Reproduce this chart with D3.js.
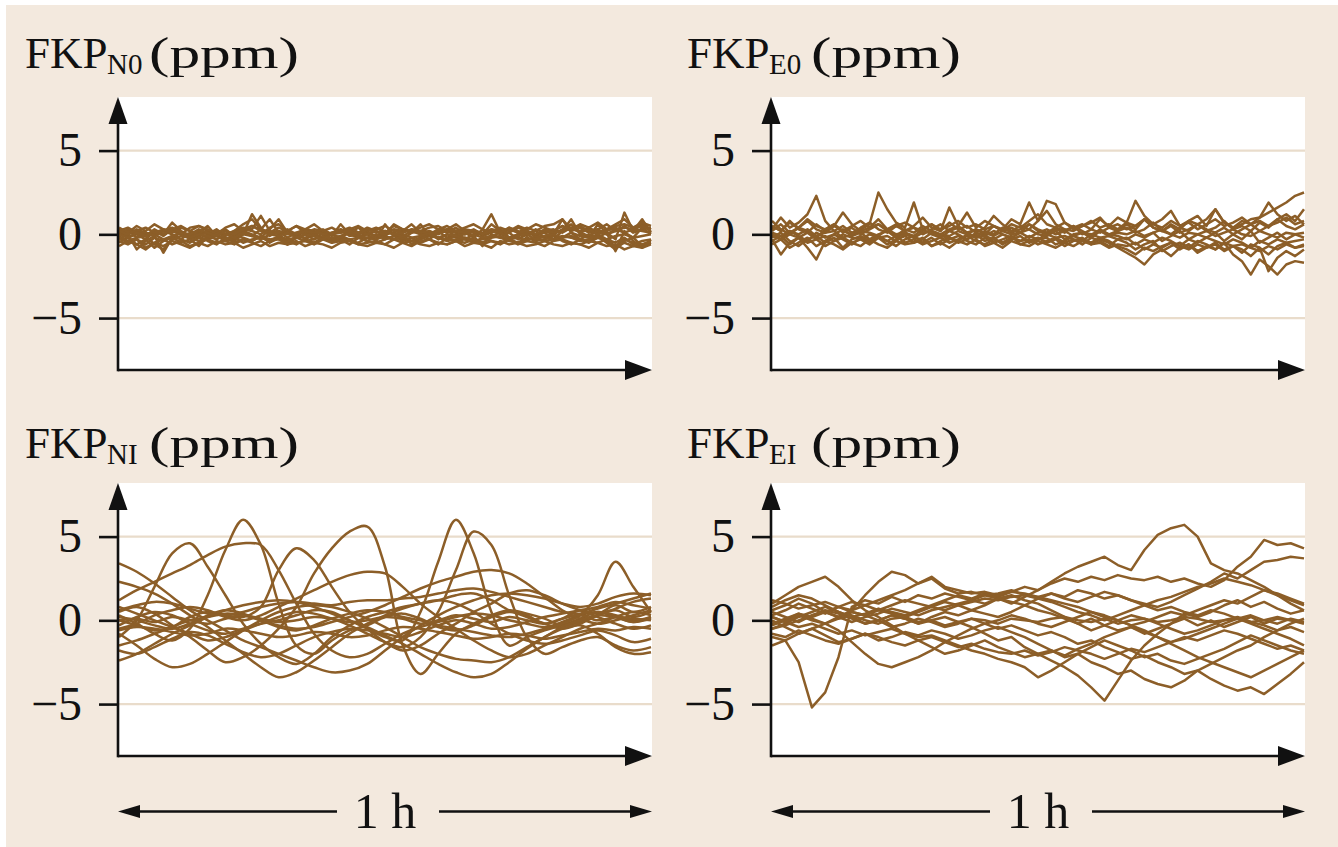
<!DOCTYPE html>
<html><head><meta charset="utf-8">
<script src="https://cdn.jsdelivr.net/npm/d3@7"></script>
<style>html,body{margin:0;padding:0;background:#fff;} svg{display:block}</style>
</head><body><svg id="c" width="1338" height="847"></svg>
<script>
const tickValues = [-5, 0, 5];
const gridValues = [-5, 5];
const yDomain = [-8.1, 8.2];
const timeLabel = "1 h";
const titles = {N0: "N0", E0: "E0", NI: "NI", EI: "EI"};

const seriesN0 = [
[0.1,-0.2,0.0,-0.3,0.2,-0.1,0.3,0.0,-0.2,0.1, 0.5,-0.1,0.2,-0.3,0.0,1.2,0.4,-0.1,0.2,-0.2, 0.1,-0.3,0.0,0.2,-0.1,0.6,0.0,-0.2,0.1,-0.1, 0.2,0.0,-0.3,0.1,0.6,-0.1,0.2,-0.2,0.0,0.1, -0.2,0.3,1.2,0.1,-0.2,0.0,0.2,-0.1,0.1,-0.3, 0.2,0.9,0.0,-0.2,0.6,0.1,-0.3,1.3,0.2,0.9,0.1],
[-0.3,0.0,-0.9,-0.4,-0.1,-1.1,-0.2,0.1,-0.3,-0.7, -0.1,0.2,-0.2,-0.4,0.0,-0.1,0.3,0.9,0.1,-0.6, -0.2,0.0,-0.3,0.1,-0.5,-0.1,0.2,-0.2,0.0,-0.4, 0.6,-0.1,0.0,-0.6,-0.2,0.1,-0.3,0.0,-0.2,0.2, -0.1,-0.7,0.0,-0.2,0.1,-0.3,0.0,0.2,-0.2,0.0, 0.9,0.1,-0.3,0.0,-0.2,0.1,-1.0,0.2,-0.4,-0.8,-0.3],
[0.2,0.4,0.1,-0.1,0.3,0.0,0.7,0.2,-0.1,0.2, 0.0,0.3,-0.1,0.2,0.4,0.3,1.1,0.2,0.0,0.2, 0.5,0.1,-0.1,0.2,0.0,0.3,0.1,0.4,0.0,0.2, -0.1,0.3,0.2,0.6,0.1,0.0,0.3,0.1,0.4,0.0, 0.2,0.1,0.3,0.0,0.4,0.2,-0.1,0.3,0.1,0.2, 0.5,0.2,0.4,0.1,0.3,0.0,0.2,0.5,0.1,0.3,0.4],
[-0.5,-0.2,-0.6,-0.3,-0.8,-0.4,-0.2,-0.5,-0.3,-0.1, -0.4,-0.6,-0.2,-0.5,-0.3,-0.4,-0.1,-0.5,-0.2,-0.4, -0.6,-0.3,-0.5,-0.2,-0.4,-0.3,-0.6,-0.2,-0.4,-0.5, -0.3,-0.1,-0.4,-0.2,-0.5,-0.3,-0.6,-0.2,-0.4,-0.3, -0.5,-0.2,-0.4,-0.6,-0.3,-0.5,-0.2,-0.4,-0.3,-0.1, -0.4,-0.6,-0.3,-0.5,-0.2,-0.4,-0.7,-0.3,-0.5,-0.6,-0.4],
[0.0,0.3,-0.2,0.1,-0.1,0.2,0.0,-0.3,0.1,0.0, -0.2,0.1,0.3,-0.1,0.2,0.0,-0.2,0.3,0.9,0.1, -0.1,0.2,0.0,-0.2,0.1,0.3,-0.1,0.0,0.2,-0.2, 0.0,0.1,-0.1,0.2,0.0,-0.3,0.1,0.2,-0.1,0.0, 0.2,-0.1,0.1,0.3,-0.2,0.0,0.1,-0.1,0.2,0.0, 0.3,0.6,0.1,-0.1,0.2,0.0,0.3,0.1,-0.2,0.4,0.0],
[-0.2,-0.5,-0.3,-0.6,-0.2,-0.4,-0.1,-0.3,-0.5,-0.2, -0.3,-0.1,-0.4,-0.2,-0.5,-0.3,-0.2,-0.4,-0.1,-0.3, -0.2,-0.4,-0.3,-0.1,-0.3,-0.2,-0.4,-0.5,-0.2,-0.3, -0.1,-0.3,-0.2,-0.4,-0.3,-0.1,-0.2,-0.4,-0.3,-0.2, -0.4,-0.3,-0.1,-0.2,-0.4,-0.5,-0.3,-0.2,-0.4,-0.3, -0.2,-0.1,-0.3,-0.4,-0.2,-0.3,-0.5,-0.2,-0.6,-0.4,-0.3],
[0.3,0.1,0.2,0.0,0.1,0.3,0.2,0.0,0.4,0.5, 0.2,0.1,0.0,0.2,0.6,0.9,0.3,0.1,0.2,0.0, 0.1,0.3,0.2,0.0,0.1,0.2,0.4,0.1,0.0,0.3, 0.5,0.2,0.1,0.3,0.2,0.4,0.5,0.2,0.1,0.3, 0.2,0.0,0.6,0.2,0.3,0.1,0.4,0.2,0.5,0.6, 0.9,0.3,0.2,0.4,0.1,0.3,0.6,0.9,0.4,0.6,0.3],
[-0.1,-0.4,-0.2,-0.1,-0.6,-0.9,-0.3,-0.1,-0.2,-0.4, -0.2,0.0,-0.3,-0.1,-0.2,-0.4,-0.1,-0.3,-0.2,-0.5, -0.1,-0.2,0.0,-0.3,-0.2,-0.1,-0.3,-0.2,-0.4,-0.1, -0.2,-0.3,-0.1,-0.4,-0.2,0.0,-0.2,-0.3,-0.1,-0.2, -0.3,-0.5,-0.2,-0.1,-0.3,-0.2,-0.4,-0.1,-0.2,-0.3, -0.1,-0.2,-0.4,-0.3,-0.1,-0.5,-0.9,-0.4,-0.2,-0.7,-0.5],
[0.1,0.0,0.2,0.4,0.1,0.0,0.3,0.5,0.2,0.0, 0.1,0.2,0.0,0.1,0.3,0.2,0.0,0.4,0.6,0.2, 0.0,0.1,0.3,0.2,0.0,0.2,0.3,0.1,0.4,0.2, 0.0,0.6,0.3,0.1,0.2,0.0,0.2,0.3,0.6,0.2, 0.1,0.0,0.3,0.2,0.1,0.4,0.2,0.0,0.2,0.3, 0.1,0.4,0.5,0.2,0.3,0.6,0.2,0.4,0.3,0.5,0.2],
[-0.4,-0.6,-0.3,-0.8,-0.5,-0.3,-0.6,-0.4,-0.7,-0.5, -0.3,-0.5,-0.4,-0.6,-0.3,-0.5,-0.7,-0.4,-0.3,-0.6, -0.5,-0.4,-0.6,-0.3,-0.5,-0.4,-0.3,-0.6,-0.5,-0.4, -0.6,-0.3,-0.5,-0.7,-0.4,-0.3,-0.5,-0.6,-0.4,-0.5, -0.3,-0.6,-0.4,-0.5,-0.3,-0.6,-0.4,-0.5,-0.7,-0.4, -0.3,-0.5,-0.6,-0.4,-0.5,-0.3,-0.8,-0.5,-0.7,-0.6,-0.5],
[0.4,0.1,0.5,0.2,0.6,0.3,0.1,0.4,0.2,0.5, 0.3,0.0,0.4,0.6,0.2,0.5,0.3,0.1,0.4,0.2, 0.5,0.3,0.6,0.2,0.4,0.1,0.3,0.5,0.2,0.4, 0.1,0.5,0.3,0.2,0.4,0.6,0.3,0.5,0.2,0.4, 0.6,0.3,0.1,0.4,0.2,0.5,0.3,0.6,0.4,0.2, 0.5,0.3,0.6,0.4,0.7,0.3,0.5,0.6,0.4,0.7,0.5],
[-0.7,-0.4,-0.6,-0.9,-0.5,-0.7,-0.4,-0.6,-0.8,-0.5, -0.7,-0.4,-0.6,-0.5,-0.8,-0.6,-0.4,-0.7,-0.5,-0.6, -0.4,-0.7,-0.5,-0.6,-0.8,-0.5,-0.4,-0.6,-0.7,-0.5, -0.6,-0.8,-0.5,-0.4,-0.6,-0.7,-0.5,-0.6,-0.4,-0.7, -0.5,-0.6,-0.8,-0.4,-0.6,-0.5,-0.7,-0.6,-0.4,-0.6, -0.7,-0.5,-0.6,-0.8,-0.5,-0.7,-0.6,-0.9,-0.7,-0.8,-0.6],
[0.0,-0.2,0.1,-0.1,0.0,-0.3,-0.1,0.1,-0.2,0.0, -0.1,-0.3,0.0,-0.2,0.1,-0.1,-0.3,0.0,-0.1,0.1, -0.2,0.0,-0.1,-0.3,0.0,-0.2,0.1,-0.1,-0.2,0.0, -0.3,-0.1,0.0,-0.2,-0.1,0.1,-0.2,0.0,-0.1,-0.3, 0.0,-0.2,-0.1,0.1,-0.2,-0.1,0.0,-0.3,-0.1,0.0, -0.2,0.1,-0.1,-0.2,0.0,-0.3,-0.1,0.0,-0.2,-0.1,0.0],
[0.2,0.0,0.3,0.1,-0.1,0.2,0.4,0.1,0.0,0.3, 0.1,-0.1,0.2,0.0,0.3,0.5,0.2,0.0,0.1,0.3, 0.0,0.2,0.1,0.3,0.0,0.1,0.2,0.0,0.3,0.1, 0.2,0.0,0.1,0.3,0.1,0.2,0.0,0.3,0.2,0.1, 0.3,0.0,0.2,0.1,0.4,0.1,0.2,0.0,0.3,0.1, 0.2,0.4,0.1,0.3,0.0,0.2,0.4,0.1,0.3,0.2,0.1]
];

const seriesE0 = [
[0.3,1.0,0.4,0.7,1.2,2.3,0.8,0.2,0.5,0.1, 0.3,0.6,2.5,1.5,0.7,0.4,1.9,0.3,0.6,0.2, 1.6,0.5,1.3,0.4,0.8,0.5,0.3,0.9,0.6,1.9, 0.8,2.0,1.8,0.7,0.4,0.6,0.3,0.9,0.5,1.0, 0.7,2.0,1.1,0.6,0.9,1.4,0.5,0.8,0.6,0.9, 1.5,0.7,0.4,0.8,0.6,1.0,1.9,1.2,0.8,1.1,0.6],
[-0.3,-1.2,-0.5,-0.2,-0.8,-1.5,-0.4,0.0,-0.3,-0.6, -0.2,-0.5,-0.1,-0.4,-0.7,-0.3,-0.1,-0.5,-0.2,-0.6, -0.3,-0.1,-0.4,-0.6,-0.2,-0.5,-0.3,-0.1,-0.6,-0.4, -0.2,-0.5,-0.3,-0.7,-0.4,-0.2,-0.6,-0.3,-0.5,-0.8, -1.1,-1.4,-1.8,-1.2,-0.9,-1.3,-0.8,-0.6,-1.0,-0.7, -0.9,-0.5,-1.2,-1.6,-2.4,-1.5,-1.9,-2.4,-1.8,-1.6,-1.7],
[0.5,0.2,0.8,0.3,0.1,0.6,0.2,0.5,1.3,0.6, 0.2,0.4,0.9,0.3,0.6,0.2,0.5,1.0,0.4,0.2, 0.7,0.3,0.5,0.1,0.4,1.1,0.6,0.2,0.5,0.3, 0.8,1.4,0.6,0.3,0.2,0.5,0.7,1.0,0.4,0.6, 0.3,0.5,0.9,0.4,0.2,0.6,0.3,0.8,1.1,0.5, 1.5,0.7,0.4,0.6,0.9,1.0,1.3,1.6,1.9,2.3,2.5],
[0.0,-0.3,0.2,-0.1,-0.4,0.1,-0.2,0.0,0.3,-0.1, 0.1,-0.3,0.0,0.2,-0.2,0.1,-0.1,0.3,0.0,-0.2, 0.2,0.0,-0.3,0.1,-0.1,0.2,0.0,-0.2,0.1,0.3, 0.0,-0.1,0.2,-0.3,0.0,0.1,-0.2,0.2,0.0,-0.1, -0.3,0.0,-0.2,0.1,-0.4,-0.1,0.2,-0.3,0.0,-0.2, 0.1,-0.4,0.0,-0.3,0.2,-0.5,-0.2,0.1,-0.3,0.0,-0.2],
[-0.4,-0.1,-0.6,-0.2,-0.5,-0.3,-0.7,-0.4,-0.2,-0.5, -0.3,-0.6,-0.2,-0.4,-0.1,-0.5,-0.3,-0.6,-0.4,-0.2, -0.5,-0.3,-0.1,-0.4,-0.6,-0.3,-0.5,-0.2,-0.4,-0.3, -0.6,-0.4,-0.2,-0.5,-0.3,-0.6,-0.2,-0.4,-0.7,-0.3, -0.5,-0.9,-0.6,-0.4,-1.0,-0.7,-0.5,-0.8,-0.4,-0.6, -0.9,-0.5,-0.7,-1.1,-0.6,-0.8,-1.2,-0.7,-0.5,-0.8,-0.6],
[0.2,0.6,0.1,0.4,0.8,0.3,0.1,0.5,0.2,0.0, 0.4,0.7,0.3,0.1,0.5,0.2,0.4,0.0,0.3,0.6, 0.2,0.4,0.1,0.3,0.0,0.5,0.2,0.4,0.1,0.6, 0.3,0.1,0.4,0.2,0.5,0.0,0.3,0.1,0.4,0.2, 0.6,0.3,0.9,0.4,0.2,0.5,0.1,0.3,0.6,0.2, 0.4,0.8,0.3,0.5,0.2,0.7,0.4,0.9,0.5,0.3,0.6],
[0.8,0.3,0.0,0.4,0.2,-0.2,0.3,0.6,0.1,0.4, 0.0,0.3,0.6,0.2,-0.1,0.3,0.1,0.5,0.2,0.0, 0.3,0.5,0.1,-0.2,0.2,0.0,0.4,0.1,0.3,0.6, 0.2,0.0,0.3,0.1,0.5,0.2,-0.1,0.3,0.0,0.2, 0.4,0.1,0.3,0.7,0.2,0.0,0.4,0.2,0.6,0.3, 0.1,0.4,0.0,0.3,0.6,0.2,0.5,0.9,1.2,0.8,1.5],
[-0.2,0.1,-0.4,-0.7,-0.3,-0.1,-0.5,-0.2,-0.8,-0.3, -0.1,-0.4,-0.2,-0.6,-0.3,-0.1,-0.5,-0.2,-0.7,-0.4, -0.2,-0.5,-0.3,0.0,-0.4,-0.2,-0.6,-0.3,-0.1,-0.5, -0.3,-0.2,-0.6,-0.4,-0.1,-0.3,-0.5,-0.2,-0.4,-0.7, -0.9,-1.2,-0.8,-1.0,-0.7,-0.5,-0.9,-0.6,-1.1,-0.8, -0.6,-1.0,-0.7,-0.9,-1.3,-0.8,-2.2,-1.4,-1.0,-1.3,-0.9],
[0.5,0.2,0.7,0.4,0.9,0.5,0.3,0.6,0.2,0.5, 0.8,0.4,0.6,0.3,0.5,0.7,0.4,0.2,0.6,0.3, 0.5,0.8,0.4,0.6,0.3,0.5,0.2,0.6,0.4,0.8, 1.2,0.6,0.4,0.7,0.3,0.5,0.8,0.4,0.6,0.3, 0.7,0.5,0.9,0.6,0.4,0.8,0.5,0.7,0.3,0.6, 0.9,0.5,0.7,1.0,0.6,0.8,0.5,0.7,1.0,0.6,0.8],
[-0.6,-0.3,-0.8,-0.5,-0.2,-0.7,-0.4,-0.6,-0.9,-0.5, -0.7,-0.3,-0.6,-0.8,-0.4,-0.6,-0.5,-0.3,-0.7,-0.5, -0.8,-0.4,-0.6,-0.3,-0.7,-0.5,-0.8,-0.4,-0.6,-0.7, -0.4,-0.6,-0.8,-0.5,-0.7,-0.4,-0.6,-0.5,-0.8,-0.6, -0.7,-0.5,-0.9,-0.6,-0.8,-0.5,-0.7,-0.9,-0.6,-0.8, -0.5,-0.9,-0.7,-0.6,-0.8,-1.0,-0.7,-0.9,-0.6,-0.8,-0.7],
[0.1,-0.1,0.2,0.0,0.3,-0.1,0.1,0.2,-0.2,0.0, 0.2,0.1,-0.1,0.3,0.0,0.1,-0.2,0.1,0.2,0.0, -0.1,0.2,0.0,0.3,0.1,-0.1,0.2,0.0,0.1,-0.2, 0.1,0.3,0.0,0.2,-0.1,0.1,0.0,0.2,-0.1,0.1, 0.0,0.2,-0.1,0.1,0.3,0.0,-0.2,0.1,0.0,0.2, -0.1,0.1,0.3,0.0,-0.1,0.2,0.0,-0.2,0.1,0.0,0.1],
[-0.1,-0.3,0.0,-0.2,0.1,-0.3,-0.1,-0.4,0.0,-0.2, -0.3,0.0,-0.2,-0.1,-0.4,0.0,-0.2,-0.3,0.1,-0.1, -0.2,-0.4,0.0,-0.2,-0.1,-0.3,0.0,-0.2,-0.4,-0.1, -0.3,0.0,-0.2,-0.1,-0.3,-0.4,0.0,-0.2,-0.1,-0.3, -0.2,-0.6,-0.3,-0.5,-0.2,-0.4,-0.7,-0.3,-0.5,-0.2, -0.4,-0.6,-0.3,-0.5,-0.8,-0.4,-0.6,-0.3,-0.5,-0.4,-0.3]
];

const seriesNI = [
[0.3,-0.2,-0.8,-1.2,-0.5,1.5,4.2,6.0,4.5,1.0,-1.5,-2.0,-1.2,-0.6,-0.3,0.2,0.4,0.1,-0.4,-0.6,-0.3,0.2,0.5,0.3,-0.2,0.1,0.6,0.4,0.9,0.5,0.8],
[-1.0,0.0,2.0,4.0,4.6,3.2,1.5,-0.2,-1.4,-2.2,-2.6,-2.0,-1.0,-0.3,0.2,0.5,0.8,1.0,1.2,1.5,1.6,1.2,0.6,0.2,-0.2,-0.5,-0.2,0.3,0.7,1.1,1.3],
[0.5,0.8,0.4,-0.3,-1.0,-1.8,-2.5,-2.2,-1.5,-0.5,0.8,2.8,4.3,5.3,5.6,3.2,-1.5,-3.2,-2.0,-0.8,-0.2,0.3,0.6,0.4,0.1,-0.3,-0.1,0.3,0.6,0.2,0.5],
[0.0,-0.3,-0.6,-0.4,0.2,0.5,0.3,0.2,0.8,3.0,4.3,3.6,2.0,0.5,-0.5,-1.3,-1.8,-1.5,-0.8,-0.2,0.5,1.0,1.6,1.8,1.5,1.0,0.6,0.2,-0.2,-0.5,-0.3],
[1.2,1.8,2.3,2.8,3.3,3.9,4.4,4.6,4.5,3.0,1.0,-0.8,-1.8,-2.2,-2.0,-1.4,-0.8,-0.4,-0.1,0.2,0.4,0.3,0.0,-0.2,-0.4,-0.1,0.3,0.5,0.2,-0.1,0.2],
[3.4,2.9,2.2,1.4,0.6,0.0,-0.6,-1.2,-1.6,-2.0,-2.4,-2.8,-3.1,-3.0,-2.6,-1.8,-1.0,-0.3,0.3,0.8,1.2,1.5,1.6,1.5,1.3,1.0,0.8,1.0,1.4,1.6,1.5],
[-0.3,0.2,0.5,0.3,-0.2,-0.6,-0.8,-0.5,-0.2,0.0,0.3,0.6,0.5,0.0,-0.5,-1.0,-1.2,0.5,3.5,6.0,4.0,0.5,-1.5,-1.0,-0.6,-0.3,0.1,0.5,0.3,0.0,0.2],
[0.8,0.4,0.0,-0.4,-0.8,-1.2,-1.0,-0.6,-0.2,0.2,0.5,0.4,0.1,-0.3,-0.8,-1.3,-1.6,-1.0,0.5,3.0,5.3,4.5,1.5,-1.0,-2.0,-1.6,-1.2,-1.0,-1.5,-1.8,-1.6],
[0.2,0.0,-0.3,-0.5,-0.2,0.3,0.6,0.4,0.0,-0.4,-0.6,-0.3,0.1,0.4,0.6,0.5,0.2,0.0,-0.3,-0.5,-0.7,-0.9,-1.0,-0.8,-0.5,-0.2,0.3,1.5,3.5,2.0,0.5],
[-0.5,-0.2,0.3,0.6,0.8,0.6,0.2,0.0,0.3,0.8,1.3,1.8,2.3,2.7,2.9,2.8,2.0,1.0,0.2,-0.5,-1.2,-1.8,-2.2,-2.0,-1.5,-1.0,-0.5,-0.2,0.2,0.5,0.3],
[-1.5,-1.2,-0.8,-0.4,0.0,0.2,0.4,0.3,0.0,-0.3,-0.5,-0.4,-0.1,0.2,0.5,0.9,1.4,1.9,2.3,2.6,2.9,3.0,2.8,2.2,1.4,0.6,0.1,-0.2,0.0,0.3,0.6],
[2.3,2.0,1.6,1.0,0.3,-0.4,-1.2,-2.0,-2.8,-3.4,-3.1,-2.4,-1.6,-0.8,-0.2,0.3,0.7,1.0,1.2,1.0,0.5,-0.2,-0.8,-1.2,-1.4,-1.2,-0.9,-0.6,-0.9,-1.3,-1.1],
[-2.4,-2.0,-1.4,-0.8,-0.3,0.2,0.6,0.9,1.1,1.2,1.1,0.8,0.4,0.0,-0.4,-0.9,-1.4,-2.0,-2.6,-3.1,-3.4,-3.2,-2.5,-1.7,-1.0,-0.4,0.0,0.3,0.2,-0.1,0.1],
[-0.8,-1.5,-2.3,-2.8,-2.6,-2.0,-1.3,-0.6,0.0,0.5,0.8,0.9,0.8,0.5,0.1,-0.4,-1.0,-1.6,-2.0,-2.3,-2.4,-2.5,-2.2,-1.6,-1.0,-0.5,-0.3,-0.8,-1.6,-2.0,-1.9],
[0.0,0.1,-0.1,0.2,0.0,-0.2,0.1,0.3,0.1,-0.1,0.0,0.2,0.1,-0.1,0.0,0.2,0.1,-0.2,0.0,0.3,0.1,-0.1,0.2,0.0,-0.2,0.1,0.3,0.0,0.2,0.1,0.0],
[-0.6,-0.4,-0.5,-0.7,-0.9,-0.8,-0.5,-0.6,-0.8,-1.0,-0.9,-0.7,-0.8,-1.0,-0.9,-0.6,-0.4,-0.5,-0.7,-0.9,-1.1,-1.0,-0.8,-0.9,-1.1,-0.9,-0.7,-0.5,-0.6,-0.4,-0.5],
[0.6,0.9,1.1,1.0,0.7,0.4,0.3,0.5,0.8,1.0,1.1,1.0,0.9,1.1,1.2,1.2,1.3,1.4,1.6,1.8,1.9,1.7,1.4,1.1,0.8,0.5,0.4,0.7,1.0,1.3,1.6],
[-1.8,-2.0,-1.6,-1.1,-0.7,-0.9,-1.4,-1.9,-2.2,-2.0,-1.5,-1.0,-0.7,-0.5,-0.6,-0.8,-1.0,-0.7,-0.3,0.0,-0.2,-0.5,-0.4,-0.1,0.2,0.4,0.6,0.8,1.1,0.9,0.7]
];

const seriesEI = [
[-1.0,-1.2,-2.5,-5.2,-4.3,-2.2,0.8,1.2,1.0,1.4,1.1,1.5,1.3,1.6,1.4,1.2,1.5,1.3,1.1,0.9,0.6,0.4,0.1,-0.2,0.1,-0.3,-0.6,-0.4,-0.8,-0.5,-0.2,0.1,-0.3,0.0,-0.4,-0.1,0.2,-0.2,0.1,0.0,-0.2],
[0.3,0.6,1.0,0.7,0.4,0.8,1.1,0.9,0.6,0.9,1.2,1.0,0.8,1.1,0.9,0.6,0.9,1.3,1.0,1.4,1.8,2.3,2.8,3.2,3.5,3.8,3.3,3.0,4.2,5.1,5.5,5.7,5.0,3.4,3.0,2.8,2.4,2.0,1.5,1.0,0.6],
[-0.5,-0.2,0.2,0.5,0.8,0.5,0.2,0.4,0.7,0.5,0.3,0.6,0.9,1.2,1.5,1.3,1.6,1.4,1.7,2.0,1.8,2.2,2.5,2.3,2.6,2.4,2.7,2.5,2.4,2.6,2.3,2.5,2.2,2.0,2.4,3.2,3.8,4.8,4.5,4.6,4.3],
[0.8,1.2,1.5,1.3,0.9,0.5,0.2,-0.2,0.0,0.3,0.1,-0.2,0.2,0.5,0.3,0.6,0.4,0.2,0.5,0.9,1.3,1.6,1.4,1.8,1.6,1.3,1.5,1.2,1.0,0.8,1.1,1.5,1.9,2.3,2.8,2.5,3.0,3.5,3.6,3.8,3.7],
[0.5,0.2,-0.1,0.3,0.6,0.4,0.1,-0.2,0.0,0.3,0.1,-0.2,0.0,-0.3,-0.1,-0.4,-0.8,-1.2,-1.0,-1.6,-2.0,-2.4,-2.8,-3.3,-4.0,-4.8,-3.6,-2.4,-1.5,-0.8,-0.2,0.4,0.2,0.5,0.9,1.2,0.8,1.1,0.7,0.4,0.6],
[-0.3,0.0,0.4,0.1,-0.2,0.2,0.5,0.3,0.0,-0.4,-0.2,0.1,-0.1,-0.4,-0.2,0.1,-0.2,-0.5,-0.3,-0.6,-0.9,-0.7,-1.0,-1.4,-1.2,-1.6,-1.9,-2.3,-2.1,-2.5,-2.8,-3.2,-3.0,-3.5,-3.9,-4.2,-4.0,-4.4,-3.8,-3.2,-2.5],
[0.0,-0.4,-0.8,-0.5,-0.9,-1.3,-1.1,-0.8,-1.2,-1.0,-0.7,-0.9,-0.6,-0.8,-1.1,-0.9,-0.6,-0.4,-0.7,-1.0,-1.4,-1.8,-2.2,-2.0,-2.5,-2.8,-3.2,-3.0,-3.5,-3.8,-4.0,-3.6,-3.0,-2.6,-2.2,-1.8,-1.5,-1.0,-0.6,-0.2,0.1],
[0.2,-0.1,-0.4,-0.2,-0.5,-0.8,-0.6,-0.9,-0.7,-0.5,-0.8,-1.0,-0.9,-1.2,-1.5,-1.8,-2.0,-2.3,-2.5,-2.8,-3.4,-3.0,-2.5,-2.0,-1.6,-1.2,-1.5,-1.8,-2.2,-2.0,-2.4,-2.6,-2.3,-2.0,-1.7,-1.3,-0.9,-1.2,-1.5,-1.8,-2.0],
[-1.5,-1.2,-0.8,-0.5,-0.2,-0.6,-1.3,-2.0,-2.6,-2.8,-2.5,-2.2,-1.8,-1.3,-0.9,-0.5,-0.2,0.0,0.3,0.1,-0.2,-0.4,-0.1,0.2,0.5,0.3,0.0,-0.3,-0.6,-1.0,-1.4,-1.8,-2.2,-2.5,-2.8,-3.1,-3.4,-3.0,-2.6,-2.2,-1.8],
[0.6,0.9,1.3,1.0,0.5,0.2,0.6,1.5,2.3,2.9,2.7,2.2,2.6,2.0,1.8,1.6,1.7,1.5,1.7,1.6,1.4,1.2,1.0,0.8,0.5,0.2,0.0,-0.3,-0.1,0.2,0.5,0.3,0.6,0.9,1.2,1.0,1.4,1.8,1.6,1.3,1.0],
[1.0,1.5,2.0,2.3,2.6,2.0,1.2,0.6,0.2,-0.3,-0.8,-1.2,-1.6,-2.0,-1.8,-1.5,-1.2,-1.6,-1.9,-2.2,-2.0,-1.8,-2.1,-1.7,-1.4,-1.0,-0.7,-0.4,-0.7,-1.0,-1.3,-1.1,-0.8,-0.5,-0.2,0.1,-0.2,-0.5,-0.8,-1.1,-1.5],
[-0.2,0.1,0.4,0.2,0.5,0.8,0.6,0.9,1.2,1.5,1.8,2.2,2.5,1.9,1.6,1.7,1.5,1.6,1.8,1.5,1.4,1.6,1.3,1.1,1.4,1.7,1.5,1.2,0.9,0.6,0.8,0.5,0.3,0.6,0.4,0.1,0.3,0.0,-0.2,0.1,-0.1],
[0.2,-0.1,0.3,0.0,-0.2,0.1,0.3,0.0,-0.2,0.1,0.2,-0.1,0.0,0.2,-0.1,0.1,0.0,-0.2,0.1,0.0,-0.1,0.1,0.2,0.0,-0.1,0.1,-0.2,0.0,0.1,-0.1,0.0,0.2,0.1,-0.1,0.0,0.1,-0.1,0.0,0.2,0.0,-0.1],
[1.2,1.0,0.7,0.9,1.1,0.8,0.5,0.3,0.6,0.4,0.2,0.5,0.8,0.6,0.9,1.1,1.3,1.2,1.4,1.5,1.3,1.1,0.8,0.5,0.3,0.0,0.3,0.6,0.9,1.2,1.4,1.7,2.0,2.2,2.5,2.3,2.1,1.8,1.5,1.2,0.9],
[-0.8,-1.0,-0.6,-0.9,-1.2,-1.4,-1.1,-0.8,-1.0,-1.3,-1.5,-1.2,-1.0,-1.3,-1.6,-1.4,-1.7,-1.9,-2.0,-1.8,-2.1,-1.9,-1.6,-1.8,-2.0,-2.3,-2.0,-1.7,-1.9,-1.6,-1.3,-1.0,-1.2,-0.9,-0.6,-0.8,-1.1,-1.4,-1.7,-1.5,-1.8],
[-0.5,-0.3,0.0,0.3,0.5,0.2,-0.1,0.2,0.4,0.7,0.5,0.3,0.6,0.8,1.0,1.2,1.0,1.3,1.5,1.2,1.0,0.6,0.2,-0.2,-0.6,-0.3,0.0,0.3,0.1,-0.2,-0.5,-0.8,-0.6,-0.3,0.0,0.2,-0.1,-0.3,-0.6,-0.4,-0.7]
];

const C = {bg:"#f3e9de", line:"#8c5e28", grid:"#e9dccb", axis:"#111"};
const serif = "'Liberation Serif','Times New Roman',serif";

const svg = d3.select("#c");
svg.append("rect").attr("x",6).attr("y",5).attr("width",1332).attr("height",842).attr("fill",C.bg);

const panels = [
  {key:"N0", data:seriesN0, x0:118, x1:652, yTop:97, yBase:370, tx:25, ty:68, curve:d3.curveLinear, time:false},
  {key:"E0", data:seriesE0, x0:771, x1:1305, yTop:97, yBase:370, tx:687, ty:68, curve:d3.curveLinear, time:false},
  {key:"NI", data:seriesNI, x0:118, x1:652, yTop:483, yBase:756, tx:25, ty:458, curve:d3.curveCatmullRom, time:true},
  {key:"EI", data:seriesEI, x0:771, x1:1305, yTop:483, yBase:756, tx:687, ty:458, curve:d3.curveLinear, time:true}
];

panels.forEach(p => {
  const g = svg.append("g");
  const y = d3.scaleLinear().domain(yDomain).range([p.yBase, p.yTop]);
  g.append("rect").attr("x",p.x0).attr("y",p.yTop).attr("width",p.x1-p.x0).attr("height",p.yBase-p.yTop).attr("fill","#fff");
  g.selectAll(".grid").data(gridValues).join("line")
    .attr("x1",p.x0).attr("x2",p.x1).attr("y1",d=>y(d)).attr("y2",d=>y(d))
    .attr("stroke",C.grid).attr("stroke-width",2.2);
  const n = p.data[0].length;
  const x = d3.scaleLinear().domain([0, n-1]).range([p.x0+1, p.x1-1]);
  const line = d3.line().x((d,i)=>x(i)).y(d=>y(d)).curve(p.curve);
  g.selectAll(".s").data(p.data).join("path")
    .attr("d", line).attr("fill","none").attr("stroke",C.line)
    .attr("stroke-width",2.5).attr("stroke-linejoin","round");
  const ax = g.append("g").attr("transform",`translate(${p.x0},0)`)
    .call(d3.axisLeft(y).tickValues(tickValues).tickSize(19).tickPadding(17));
  ax.select(".domain").remove();
  ax.selectAll(".tick line").attr("stroke",C.axis).attr("stroke-width",2.6);
  ax.selectAll(".tick text").attr("fill",C.axis).style("font-family",serif).style("font-size","48px");
  g.append("line").attr("x1",p.x0).attr("x2",p.x0).attr("y1",p.yBase+1.3).attr("y2",p.yTop+20)
    .attr("stroke",C.axis).attr("stroke-width",2.6);
  g.append("path").attr("d",`M${p.x0},${p.yTop} L${p.x0-9.5},${p.yTop+27} L${p.x0+9.5},${p.yTop+27} Z`).attr("fill",C.axis);
  g.append("line").attr("x1",p.x0).attr("x2",p.x1-20).attr("y1",p.yBase).attr("y2",p.yBase)
    .attr("stroke",C.axis).attr("stroke-width",2.6);
  g.append("path").attr("d",`M${p.x1},${p.yBase} L${p.x1-27},${p.yBase-10} L${p.x1-27},${p.yBase+10} Z`).attr("fill",C.axis);
  g.append("text").attr("x",p.tx).attr("y",p.ty).attr("fill",C.axis)
    .style("font-family",serif).style("font-size","45px").text("FKP");
  g.append("text").attr("x",p.tx+82).attr("y",p.ty+6).attr("fill",C.axis)
    .style("font-family",serif).style("font-size","29px").text(titles[p.key]);
  g.append("text").attr("x",p.tx+124).attr("y",p.ty).attr("fill",C.axis)
    .attr("textLength",150).attr("lengthAdjust","spacingAndGlyphs")
    .style("font-family",serif).style("font-size","45px").text("(ppm)");
  if (p.time) {
    const ya = 811.5, cx = (p.x0+p.x1)/2;
    g.append("text").attr("x",cx).attr("y",828).attr("text-anchor","middle").attr("fill",C.axis)
      .style("font-family",serif).style("font-size","50px").text(timeLabel);
    g.append("line").attr("x1",p.x0+16).attr("x2",cx-48).attr("y1",ya).attr("y2",ya).attr("stroke",C.axis).attr("stroke-width",2.4);
    g.append("line").attr("x1",cx+54).attr("x2",p.x1-16).attr("y1",ya).attr("y2",ya).attr("stroke",C.axis).attr("stroke-width",2.4);
    g.append("path").attr("d",`M${p.x0},${ya} L${p.x0+22},${ya-6.5} L${p.x0+22},${ya+6.5} Z`).attr("fill",C.axis);
    g.append("path").attr("d",`M${p.x1},${ya} L${p.x1-22},${ya-6.5} L${p.x1-22},${ya+6.5} Z`).attr("fill",C.axis);
  }
});
</script></body></html>
